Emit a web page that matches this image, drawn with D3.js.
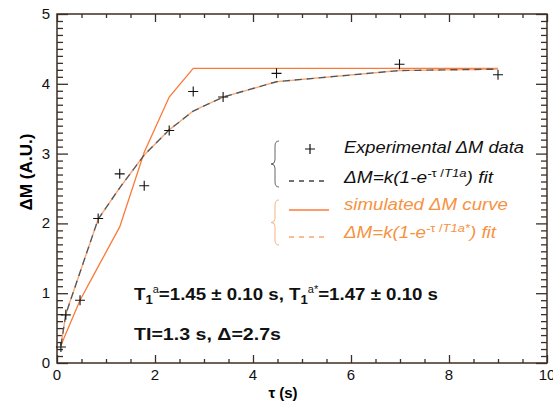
<!DOCTYPE html>
<html>
<head>
<meta charset="utf-8">
<script src="https://cdn.jsdelivr.net/npm/d3@7"></script>
<style>
  body { margin: 0; background: #fff; }
  svg { display: block; font-family: "Liberation Sans", Arial, sans-serif; }
</style>
</head>
<body>
<svg id="chart"></svg>
<script>
const width = 553;
const height = 402;
const margin = { top: 14, right: 6, bottom: 39, left: 57 };

// data
const tau = [0.08, 0.18, 0.47, 0.84, 1.28, 1.78, 2.29, 2.78, 3.39, 4.48, 6.99, 9.0];
const expData = [0.23, 0.69, 0.9, 2.07, 2.71, 2.54, 3.33, 3.89, 3.81, 4.15, 4.28, 4.13];
const simCurve = [0.25, 0.42, 0.9, 1.38, 1.95, 3.02, 3.81, 4.22, 4.22, 4.22, 4.22, 4.22];
const fitCurve = [0.25, 0.7, 1.3, 2.06, 2.51, 2.98, 3.34, 3.61, 3.81, 4.03, 4.19, 4.21];
const fitSimCurve = [0.25, 0.7, 1.3, 2.06, 2.51, 2.98, 3.34, 3.61, 3.81, 4.03, 4.19, 4.21];

const xMajor = [0, 2, 4, 6, 8, 10];
const yMajor = [0, 1, 2, 3, 4, 5];

const axisColor = "#3d2f25";
const orange = "#fb7a3a";
const orangeText = "#f7923f";

const svg = d3.select("#chart")
    .attr("width", width)
    .attr("height", height);

const x = d3.scaleLinear().domain([0, 10]).range([margin.left, width - margin.right]);
const y = d3.scaleLinear().domain([0, 5]).range([height - margin.bottom, margin.top]);

const xMinor = d3.range(0, 10.001, 0.5).filter(v => Math.abs(v % 2) > 1e-6);
const yMinor = d3.range(0, 5.001, 0.1).filter(v => Math.abs(v - Math.round(v)) > 1e-6);

// axes (ticks point inward)
function drawAxis(axisFn, scale, pos, vals, size) {
    const gAx = svg.append("g")
        .attr("transform", pos)
        .call(axisFn(scale).tickValues(vals).tickSize(size).tickSizeOuter(0).tickFormat(() => ""));
    gAx.select(".domain").remove();
    gAx.selectAll("line").attr("stroke", axisColor).attr("stroke-width", 1.3);
    return gAx;
}
const bottomY = height - margin.bottom;

drawAxis(d3.axisTop, x, `translate(0,${bottomY})`, xMinor, 4);
drawAxis(d3.axisTop, x, `translate(0,${bottomY})`, xMajor, 8);
drawAxis(d3.axisBottom, x, `translate(0,${margin.top})`, xMinor, 4);
drawAxis(d3.axisBottom, x, `translate(0,${margin.top})`, xMajor, 8);
drawAxis(d3.axisRight, y, `translate(${margin.left},0)`, yMinor, 6);
drawAxis(d3.axisRight, y, `translate(${margin.left},0)`, yMajor, 11);
drawAxis(d3.axisLeft, y, `translate(${width - margin.right},0)`, yMinor, 6);
drawAxis(d3.axisLeft, y, `translate(${width - margin.right},0)`, yMajor, 11);

svg.append("rect")
    .attr("x", x(0)).attr("y", y(5))
    .attr("width", x(10) - x(0)).attr("height", y(0) - y(5))
    .attr("fill", "none").attr("stroke", axisColor).attr("stroke-width", 1.5);

// tick labels
svg.append("g").selectAll("text")
    .data(xMajor).join("text")
    .attr("x", d => x(d)).attr("y", bottomY + 17)
    .attr("text-anchor", "middle")
    .attr("font-size", 15).attr("fill", "#111")
    .text(d => d);

svg.append("g").selectAll("text")
    .data(yMajor).join("text")
    .attr("x", margin.left - 7).attr("y", d => y(d) + 5)
    .attr("text-anchor", "end")
    .attr("font-size", 15).attr("fill", "#111")
    .text(d => d);

// axis titles
svg.append("text")
    .attr("x", 283).attr("y", 398)
    .attr("text-anchor", "middle")
    .attr("font-size", 15).attr("font-weight", "bold")
    .text("τ (s)");

svg.append("text")
    .attr("transform", "translate(32,172) rotate(-90)")
    .attr("text-anchor", "middle")
    .attr("font-size", 16).attr("font-weight", "bold")
    .attr("textLength", 77).attr("lengthAdjust", "spacingAndGlyphs")
    .text("ΔM (A.U.)");

// curves
const line = d3.line().x(d => x(d[0])).y(d => y(d[1]));

svg.append("path")
    .datum(tau.map((t, i) => [t, simCurve[i]]))
    .attr("d", line)
    .attr("fill", "none").attr("stroke", orange).attr("stroke-width", 1.3);

svg.append("path")
    .datum(tau.map((t, i) => [t, fitSimCurve[i]]))
    .attr("d", line)
    .attr("fill", "none").attr("stroke", "#fba56f").attr("stroke-width", 1.4)
    .attr("stroke-dasharray", "7,5").attr("stroke-dashoffset", 6);

svg.append("path")
    .datum(tau.map((t, i) => [t, fitCurve[i]]))
    .attr("d", line)
    .attr("fill", "none").attr("stroke", "#555").attr("stroke-width", 1.4)
    .attr("stroke-dasharray", "7,5");

// experimental points as plus markers
svg.append("g").selectAll("path")
    .data(tau.map((t, i) => [t, expData[i]]))
    .join("path")
    .attr("transform", d => `translate(${x(d[0])},${y(d[1])})`)
    .attr("d", "M-5,0H5M0,-5V5")
    .attr("stroke", "#111").attr("stroke-width", 1.1);

// legend
function brace(x0, y1, y2, color) {
    const ym = (y1 + y2) / 2;
    svg.append("path")
        .attr("d", `M${x0 + 4},${y1} Q${x0},${y1} ${x0},${y1 + 5} L${x0},${ym - 4} Q${x0},${ym} ${x0 - 4},${ym} Q${x0},${ym} ${x0},${ym + 4} L${x0},${y2 - 5} Q${x0},${y2} ${x0 + 4},${y2}`)
        .attr("fill", "none").attr("stroke", color).attr("stroke-width", 1);
}
brace(275, 141, 187, "#666");
brace(275, 200, 245, "#fbb382");

const legX = 344;
svg.append("path").attr("d", "M305,149H315M310,144V154").attr("stroke", "#111").attr("stroke-width", 1.2);
svg.append("line").attr("x1", 289).attr("x2", 329).attr("y1", 181).attr("y2", 181)
    .attr("stroke", "#444").attr("stroke-width", 1.5).attr("stroke-dasharray", "5,5");
svg.append("line").attr("x1", 289).attr("x2", 329).attr("y1", 210).attr("y2", 210)
    .attr("stroke", orange).attr("stroke-width", 1.3);
svg.append("line").attr("x1", 289).attr("x2", 329).attr("y1", 237).attr("y2", 237)
    .attr("stroke", "#fba56f").attr("stroke-width", 1.5).attr("stroke-dasharray", "5,5");

const legText = (yy, color, len) => svg.append("text")
    .attr("x", legX).attr("y", yy)
    .attr("font-size", 16).attr("font-style", "italic").attr("fill", color)
    .attr("textLength", len).attr("lengthAdjust", "spacingAndGlyphs");

legText(153, "#111", 180).text("Experimental ΔM data");

function formula(yy, color, sup, len) {
    const t = legText(yy, color, len);
    t.append("tspan").text("ΔM=k(1-e");
    t.append("tspan").attr("dy", -6).attr("font-size", 11).text("-");
    t.append("tspan").attr("font-size", 11).attr("font-style", "normal").text("τ /");
    t.append("tspan").attr("font-size", 11).text(sup);
    t.append("tspan").attr("dy", 6).text(") fit");
}
formula(183, "#111", "T1a", 149);
legText(210, orangeText, 164).text("simulated ΔM curve");
formula(238, orangeText, "T1a*", 152);

// annotations
const ann1 = svg.append("text")
    .attr("x", 134).attr("y", 300)
    .attr("font-size", 17).attr("font-weight", "bold").attr("fill", "#111")
    .attr("textLength", 304).attr("lengthAdjust", "spacingAndGlyphs");
ann1.append("tspan").text("T");
ann1.append("tspan").attr("dy", 4).attr("font-size", 12).text("1");
ann1.append("tspan").attr("dy", -11).attr("font-size", 10).attr("font-weight", "normal").text("a");
ann1.append("tspan").attr("dy", 7).text("=1.45 ± 0.10 s, T");
ann1.append("tspan").attr("dy", 4).attr("font-size", 12).text("1");
ann1.append("tspan").attr("dy", -11).attr("font-size", 10).attr("font-weight", "normal").text("a*");
ann1.append("tspan").attr("dy", 7).text("=1.47 ± 0.10 s");

svg.append("text")
    .attr("x", 134).attr("y", 340)
    .attr("font-size", 17).attr("font-weight", "bold").attr("fill", "#111")
    .attr("textLength", 147).attr("lengthAdjust", "spacingAndGlyphs")
    .text("TI=1.3 s, Δ=2.7s");
</script>
</body>
</html>
